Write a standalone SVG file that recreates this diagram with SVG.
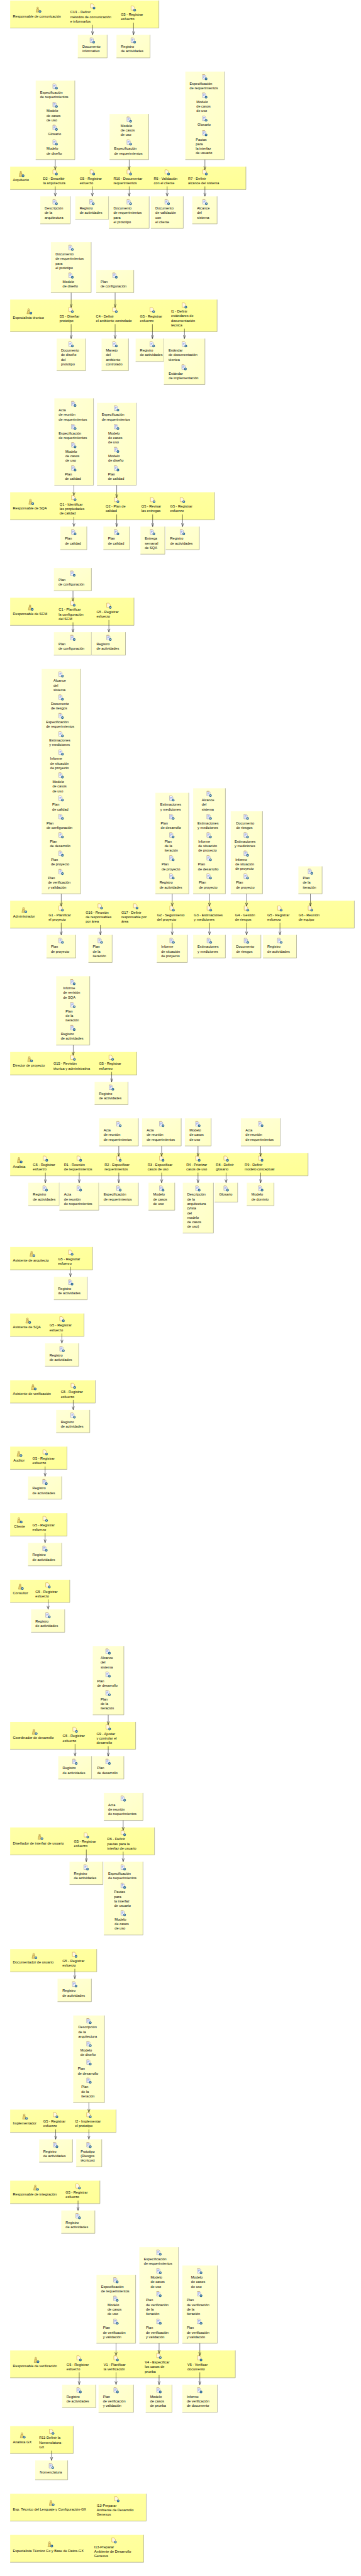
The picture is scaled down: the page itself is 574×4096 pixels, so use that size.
<svg xmlns="http://www.w3.org/2000/svg" width="574" height="4096" viewBox="0 0 574 4096">
<style>
text{font-family:"Liberation Sans",Arial,sans-serif;font-size:10.8px;fill:#000}
.b{fill:url(#gb)}
.n{fill:url(#gn)}
.s{fill:none;stroke:#a6a68c;stroke-width:1.4}
#cx path{fill:none;stroke:#000;stroke-width:1;marker-end:url(#a)}
</style>
<defs>
<linearGradient id="gb" x1="0" y1="0" x2="1" y2="1"><stop offset="0" stop-color="#ffffa8"/><stop offset="1" stop-color="#ffff96"/></linearGradient>
<linearGradient id="gn" x1="0" y1="0" x2="1" y2="1"><stop offset="0" stop-color="#ffffd8"/><stop offset="1" stop-color="#ffffc4"/></linearGradient>
<marker id="a" markerUnits="userSpaceOnUse" markerWidth="12" markerHeight="10" refX="11" refY="5" orient="auto"><path d="M1 1.5L11 5L1 8.5" fill="none" stroke="#000"/></marker>
<g id="ba"><circle cx="3" cy="3" r="4" fill="#1d5f8f"/><path d="M1 3.6L3 1.4L5 3.6M3 1.4V5" fill="none" stroke="#fff" stroke-width="1.1"/></g>
<g id="d"><path d="M-6-8H1L4-5V6H-6Z" fill="#f4f4ff" stroke="#8a8aa8"/><path d="M-4-4H2M-4-1.5H1M-4 1H-1" stroke="#5a78c8"/><path d="M-6-8H1" stroke="#d9a040"/><use href="#ba" x="2" y="2"/></g>
<g id="t"><path d="M-6-8H1L5-3V5H-6Z" fill="#fff7e0" stroke="#c89030"/><use href="#ba" x="2" y="2"/></g>
<g id="r"><circle cx="-2" cy="-6" r="2.6" fill="#f4dc90" stroke="#a08030"/><path d="M-7 7L-5-3H1L3 7Z" fill="#e8d070" stroke="#a08030"/><use href="#ba" x="2" y="2"/></g>
</defs>
<g transform="scale(0.5209 0.52105)">

<g id="lane-comunicacion"><rect class="b" x="31" y="1.5" width="454" height="84"/><path class="s" d="M31 85.5H485V1.5"/>
<use href="#r" x="117" y="30"/><text x="39.4" y="53">Responsable de comunicación</text>
<g id="t-cu1"><use href="#t" x="282" y="19.5"/><text x="214.4" y="41"><tspan x="214.4">CU1 - Definir</tspan><tspan x="214.4" dy="14">métodos de comunicación</tspan><tspan x="214.4" dy="14">e informarlos</tspan></text></g>
<g id="t-com-g5"><use href="#t" x="406" y="26"/><text x="369" y="48"><tspan x="369">G5 - Registrar</tspan><tspan x="369" dy="14">esfuerzo</tspan></text></g></g>
<g id="w-doc-inf"><rect class="n" x="237.5" y="106.5" width="89.5" height="70"/><path class="s" d="M237.5 176.5H327V106.5"/><use href="#d" x="281" y="123.7"/><text y="146"><tspan x="251.6">Documento</tspan><tspan x="251.6" dy="14">informativo</tspan></text></g>
<g id="w-com-reg"><rect class="n" x="355.6" y="106.5" width="102.4" height="70"/><path class="s" d="M355.6 176.5H458V106.5"/><use href="#d" x="406" y="123.7"/><text y="146"><tspan x="369">Registro</tspan><tspan x="369" dy="14">de actividades</tspan></text></g>

<g id="w-arq-a"><rect class="n" x="109" y="246" width="119.4" height="241"/><path class="s" d="M109 487H228.4V246"/>
<use href="#d" x="167.3" y="264"/><text y="286"><tspan x="122.3">Especificación</tspan><tspan x="122.3" dy="14">de requerimientos</tspan></text>
<use href="#d" x="167.3" y="320"/><text y="342.4"><tspan x="142">Modelo</tspan><tspan x="142" dy="14">de casos</tspan><tspan x="142" dy="14">de uso</tspan></text>
<use href="#d" x="167.3" y="390"/><text x="146.2" y="412.3">Glosario</text>
<use href="#d" x="167.3" y="434.8"/><text y="457.3"><tspan x="142">Modelo</tspan><tspan x="142" dy="14">de diseño</tspan></text></g>
<g id="w-arq-b"><rect class="n" x="334.5" y="347.7" width="119.5" height="139.3"/><path class="s" d="M334.5 487H454V347.7"/>
<use href="#d" x="393.6" y="365"/><text y="387.4"><tspan x="368.3">Modelo</tspan><tspan x="368.3" dy="14">de casos</tspan><tspan x="368.3" dy="14">de uso</tspan></text>
<use href="#d" x="393.6" y="434.8"/><text y="457.3"><tspan x="348.6">Especificación</tspan><tspan x="348.6" dy="14">de requerimientos</tspan></text></g>
<g id="w-arq-c"><rect class="n" x="565.7" y="218.4" width="119.5" height="268.6"/><path class="s" d="M565.7 487H685.2V218.4"/>
<use href="#d" x="624" y="235.7"/><text y="258.2"><tspan x="579">Especificación</tspan><tspan x="579" dy="14">de requerimientos</tspan></text>
<use href="#d" x="624" y="291.7"/><text y="314.2"><tspan x="599.5">Modelo</tspan><tspan x="599.5" dy="14">de casos</tspan><tspan x="599.5" dy="14">de uso</tspan></text>
<use href="#d" x="624" y="362"/><text x="603" y="384">Glosario</text>
<use href="#d" x="624" y="406.6"/><text y="429.1"><tspan x="597.4">Pautas</tspan><tspan x="597.4" dy="14">para</tspan><tspan x="597.4" dy="14">la interfaz</tspan><tspan x="597.4" dy="14">de usuario</tspan></text></g>
<g id="lane-arquitecto"><rect class="b" x="31" y="508.4" width="719.6" height="70"/><path class="s" d="M31 578.4H750.6V508.4"/>
<use href="#r" x="65.4" y="531.2"/><text x="39.4" y="553.3">Arquitecto</text>
<g id="t-d2"><use href="#t" x="167.3" y="526"/><text y="548.2"><tspan x="131.4">D2 - Describir</tspan><tspan x="131.4" dy="14">la arquitectura</tspan></text></g>
<g id="t-arq-g5"><use href="#t" x="281" y="526"/><text y="548.2"><tspan x="243.2">G5 - Registrar</tspan><tspan x="243.2" dy="14">esfuerzo</tspan></text></g>
<g id="t-r10"><use href="#t" x="393.6" y="526"/><text y="548.2"><tspan x="346.5">R10 - Documentar</tspan><tspan x="346.5" dy="14">requerimientos</tspan></text></g>
<g id="t-r5"><use href="#t" x="509.5" y="526"/><text y="548.2"><tspan x="469.5">R5 - Validación</tspan><tspan x="469.5" dy="14">con el cliente</tspan></text></g>
<g id="t-r7"><use href="#t" x="624.8" y="526"/><text y="548.2"><tspan x="574.2">R7 - Definir</tspan><tspan x="574.2" dy="14">alcance del sistema</tspan></text></g></g>
<g id="w-desc-arq"><rect class="n" x="123" y="599.3" width="91.4" height="83.8"/><path class="s" d="M123 683.1H214.4V599.3"/><use href="#d" x="167.3" y="617"/><text y="639.1"><tspan x="136.3">Descripción</tspan><tspan x="136.3" dy="14">de la</tspan><tspan x="136.3" dy="14">arquitectura</tspan></text></g>
<g id="w-arq-reg"><rect class="n" x="229.8" y="599.3" width="101.9" height="70"/><path class="s" d="M229.8 669.3H331.7V599.3"/><use href="#d" x="279.7" y="617"/><text y="639.1"><tspan x="243.2">Registro</tspan><tspan x="243.2" dy="14">de actividades</tspan></text></g>
<g id="w-doc-req"><rect class="n" x="332.4" y="599.3" width="123" height="97.7"/><path class="s" d="M332.4 697H455.4V599.3"/><use href="#d" x="393.6" y="617"/><text y="639.1"><tspan x="346.5">Documento</tspan><tspan x="346.5" dy="14">de requerimientos</tspan><tspan x="346.5" dy="14">para</tspan><tspan x="346.5" dy="14">el prototipo</tspan></text></g>
<g id="w-doc-val"><rect class="n" x="460.3" y="599.3" width="99.1" height="97.7"/><path class="s" d="M460.3 697H559.4V599.3"/><use href="#d" x="509.5" y="617"/><text y="639.1"><tspan x="474.4">Documento</tspan><tspan x="474.4" dy="14">de validación</tspan><tspan x="474.4" dy="14">con</tspan><tspan x="474.4" dy="14">el cliente</tspan></text></g>
<g id="w-alcance"><rect class="n" x="586.8" y="599.3" width="75.9" height="83.8"/><path class="s" d="M586.8 683.1H662.7V599.3"/><use href="#d" x="624.8" y="617"/><text y="639.1"><tspan x="601.6">Alcance</tspan><tspan x="601.6" dy="14">del</tspan><tspan x="601.6" dy="14">sistema</tspan></text></g>

<g id="w-tec-a"><rect class="n" x="155.3" y="739.1" width="123" height="154.1"/><path class="s" d="M155.3 893.2H278.3V739.1"/>
<use href="#d" x="215.8" y="756.4"/><text y="779.3"><tspan x="169.4">Documento</tspan><tspan x="169.4" dy="14">de requerimientos</tspan><tspan x="169.4" dy="14">para</tspan><tspan x="169.4" dy="14">el prototipo</tspan></text>
<use href="#d" x="215.8" y="841"/><text y="863.1"><tspan x="191.2">Modelo</tspan><tspan x="191.2" dy="14">de diseño</tspan></text></g>
<g id="w-tec-b"><rect class="n" x="293.8" y="823.7" width="114.5" height="69.5"/><path class="s" d="M293.8 893.2H408.3V823.7"/><use href="#d" x="350" y="841"/><text y="863.1"><tspan x="307.1">Plan</tspan><tspan x="307.1" dy="14">de configuración</tspan></text></g>
<g id="lane-tecnico"><rect class="b" x="31" y="914.2" width="631.7" height="98.1"/><path class="s" d="M31 1012.3H662.7V914.2"/>
<use href="#r" x="89.3" y="950.4"/><text x="39.4" y="973.4">Especialista técnico</text>
<g id="t-d5"><use href="#t" x="215.8" y="946.2"/><text y="968.3"><tspan x="182">D5 - Diseñar</tspan><tspan x="182" dy="14">prototipo</tspan></text></g>
<g id="t-c4"><use href="#t" x="350" y="946.2"/><text y="968.3"><tspan x="293">C4 - Definir</tspan><tspan x="293" dy="14">el ambiente controlado</tspan></text></g>
<g id="t-tec-g5"><use href="#t" x="463.8" y="946.2"/><text y="968.3"><tspan x="427.3">G5 - Registrar</tspan><tspan x="427.3" dy="14">esfuerzo</tspan></text></g>
<g id="t-i1"><use href="#t" x="562.2" y="932.3"/><text y="954"><tspan x="522.2">I1 - Definir</tspan><tspan x="522.2" dy="14">estándares de</tspan><tspan x="522.2" dy="14">documentación</tspan><tspan x="522.2" dy="14">técnica</tspan></text></g></g>
<g id="w-doc-dis"><rect class="n" x="172.9" y="1033.3" width="88.5" height="98.1"/><path class="s" d="M172.9 1131.4H261.4V1033.3"/><use href="#d" x="215.8" y="1051"/><text y="1073.1"><tspan x="186.2">Documento</tspan><tspan x="186.2" dy="14">de diseño</tspan><tspan x="186.2" dy="14">del</tspan><tspan x="186.2" dy="14">prototipo</tspan></text></g>
<g id="w-manejo"><rect class="n" x="310" y="1033.3" width="82.2" height="98.1"/><path class="s" d="M310 1131.4H392.2V1033.3"/><use href="#d" x="350" y="1051"/><text y="1073.1"><tspan x="323.3">Manejo</tspan><tspan x="323.3" dy="14">del</tspan><tspan x="323.3" dy="14">ambiente</tspan><tspan x="323.3" dy="14">controlado</tspan></text></g>
<g id="w-tec-reg"><rect class="n" x="414" y="1033.3" width="85.7" height="70"/><path class="s" d="M414 1103.3H499.7V1033.3"/><use href="#d" x="463.8" y="1051"/><text y="1073.1"><tspan x="427.3">Registro</tspan><tspan x="427.3" dy="14">de actividades</tspan></text></g>
<g id="w-estandar"><rect class="n" x="500.4" y="1033.3" width="125.1" height="140.2"/><path class="s" d="M500.4 1173.5H625.5V1033.3"/><use href="#d" x="562.2" y="1051"/><text y="1073.1"><tspan x="514.5">Estándar</tspan><tspan x="514.5" dy="14">de documentación</tspan><tspan x="514.5" dy="14">técnica</tspan></text><use href="#d" x="561" y="1121"/><text y="1143"><tspan x="515.1">Estándar</tspan><tspan x="515.1" dy="14">de implementación</tspan></text></g>

<g id="w-sqa-a"><rect class="n" x="165.9" y="1215.6" width="119.4" height="265.2"/><path class="s" d="M165.9 1480.8H285.3V1215.6"/>
<use href="#d" x="224.2" y="1232.8"/><text y="1255.4"><tspan x="179.2">Acta</tspan><tspan x="179.2" dy="14">de reunión</tspan><tspan x="179.2" dy="14">de requerimientos</tspan></text>
<use href="#d" x="224.2" y="1302.7"/><text y="1325.6"><tspan x="179.2">Especificación</tspan><tspan x="179.2" dy="14">de requerimientos</tspan></text>
<use href="#d" x="224.2" y="1358.7"/><text y="1381.2"><tspan x="199.6">Modelo</tspan><tspan x="199.6" dy="14">de casos</tspan><tspan x="199.6" dy="14">de uso</tspan></text>
<use href="#d" x="224.2" y="1429.4"/><text y="1451.1"><tspan x="198.2">Plan</tspan><tspan x="198.2" dy="14">de calidad</tspan></text></g>
<g id="w-sqa-b"><rect class="n" x="295.9" y="1229.5" width="120.1" height="251.3"/><path class="s" d="M295.9 1480.8H416V1229.5"/>
<use href="#d" x="354.9" y="1246.3"/><text y="1269.3"><tspan x="310.6">Especificación</tspan><tspan x="310.6" dy="14">de requerimientos</tspan></text>
<use href="#d" x="354.9" y="1302.7"/><text y="1325.6"><tspan x="330.3">Modelo</tspan><tspan x="330.3" dy="14">de casos</tspan><tspan x="330.3" dy="14">de uso</tspan></text>
<use href="#d" x="354.9" y="1373"/><text y="1395.1"><tspan x="330.3">Modelo</tspan><tspan x="330.3" dy="14">de diseño</tspan></text>
<use href="#d" x="354.9" y="1429.4"/><text y="1451.1"><tspan x="329.6">Plan</tspan><tspan x="329.6" dy="14">de calidad</tspan></text></g>
<g id="lane-sqa"><rect class="b" x="31" y="1502.2" width="624" height="84.2"/><path class="s" d="M31 1586.4H655V1502.2"/>
<use href="#r" x="94.9" y="1532.1"/><text x="39.4" y="1554.7">Responsable de SQA</text>
<g id="t-q1"><use href="#t" x="224.2" y="1520"/><text y="1542.4"><tspan x="182">Q1 - Identificar</tspan><tspan x="182" dy="14">las propiedades</tspan><tspan x="182" dy="14">de calidad</tspan></text></g>
<g id="t-q2"><use href="#t" x="354.9" y="1526.2"/><text y="1549.2"><tspan x="322.6">Q2 - Plan de</tspan><tspan x="322.6" dy="14">calidad</tspan></text></g>
<g id="t-q5"><use href="#t" x="465.2" y="1526.2"/><text y="1549.2"><tspan x="431.5">Q5 - Revisar</tspan><tspan x="431.5" dy="14">las entregas</tspan></text></g>
<g id="t-sqa-g5"><use href="#t" x="555.9" y="1526.2"/><text y="1549.2"><tspan x="519.4">G5 - Registrar</tspan><tspan x="519.4" dy="14">esfuerzo</tspan></text></g></g>
<g id="w-pcal-1"><rect class="n" x="184.1" y="1607" width="80.9" height="70.3"/><path class="s" d="M184.1 1677.3H265V1607"/><use href="#d" x="224.2" y="1624.3"/><text y="1647.2"><tspan x="198.2">Plan</tspan><tspan x="198.2" dy="14">de calidad</tspan></text></g>
<g id="w-pcal-2"><rect class="n" x="315.6" y="1607" width="80.1" height="70.3"/><path class="s" d="M315.6 1677.3H395.7V1607"/><use href="#d" x="354.9" y="1624.3"/><text y="1647.2"><tspan x="329.6">Plan</tspan><tspan x="329.6" dy="14">de calidad</tspan></text></g>
<g id="w-entrega"><rect class="n" x="428.7" y="1607" width="74.5" height="84.2"/><path class="s" d="M428.7 1691.2H503.2V1607"/><use href="#d" x="464.6" y="1624.3"/><text y="1647.2"><tspan x="442">Entrega</tspan><tspan x="442" dy="14">semanal</tspan><tspan x="442" dy="14">de SQA</tspan></text></g>
<g id="w-sqa-reg"><rect class="n" x="506" y="1607" width="102.6" height="70.3"/><path class="s" d="M506 1677.3H608.6V1607"/><use href="#d" x="555.9" y="1624.3"/><text y="1647.2"><tspan x="519.4">Registro</tspan><tspan x="519.4" dy="14">de actividades</tspan></text></g>

<g id="w-scm-in"><rect class="n" x="164.5" y="1733.3" width="114.5" height="69.9"/><path class="s" d="M164.5 1803.2H279V1733.3"/><use href="#d" x="221.4" y="1750.6"/><text y="1773.1"><tspan x="178.5">Plan</tspan><tspan x="178.5" dy="14">de configuración</tspan></text></g>
<g id="lane-scm"><rect class="b" x="31" y="1824.2" width="378" height="84.2"/><path class="s" d="M31 1908.4H409V1824.2"/>
<use href="#r" x="93.5" y="1854.5"/><text x="39.4" y="1876.6">Responsable de SCM</text>
<g id="t-c1"><use href="#t" x="221.4" y="1842"/><text y="1864"><tspan x="179.2">C1 - Planificar</tspan><tspan x="179.2" dy="14">la configuración</tspan><tspan x="179.2" dy="14">del SCM</tspan></text></g>
<g id="t-scm-g5"><use href="#t" x="331.7" y="1848.6"/><text y="1871.2"><tspan x="294.5">G5 - Registrar</tspan><tspan x="294.5" dy="14">esfuerzo</tspan></text></g></g>
<g id="w-scm-plan"><rect class="n" x="164.5" y="1929" width="114.5" height="70.4"/><path class="s" d="M164.5 1999.4H279V1929"/><use href="#d" x="221.4" y="1946.7"/><text y="1969.2"><tspan x="178.5">Plan</tspan><tspan x="178.5" dy="14">de configuración</tspan></text></g>
<g id="w-scm-reg"><rect class="n" x="279.7" y="1929" width="103.3" height="70.4"/><path class="s" d="M279.7 1999.4H383V1929"/><use href="#d" x="331.7" y="1946.7"/><text y="1969.2"><tspan x="294.5">Registro</tspan><tspan x="294.5" dy="14">de actividades</tspan></text></g>

<g id="w-adm-a"><rect class="n" x="127.2" y="2041.5" width="118.8" height="686"/><path class="s" d="M127.2 2727.5H246V2041.5"/>
<use href="#d" x="185.5" y="2058.3"/><text y="2081.2"><tspan x="163">Alcance</tspan><tspan x="163" dy="14">del</tspan><tspan x="163" dy="14">sistema</tspan></text>
<use href="#d" x="185.5" y="2128.6"/><text y="2151.1"><tspan x="155.3">Documento</tspan><tspan x="155.3" dy="14">de riesgos</tspan></text>
<use href="#d" x="185.5" y="2185"/><text y="2207.1"><tspan x="140.6">Especificación</tspan><tspan x="140.6" dy="14">de requerimientos</tspan></text>
<use href="#d" x="185.5" y="2241"/><text y="2263"><tspan x="150.4">Estimaciones</tspan><tspan x="150.4" dy="14">y mediciones</tspan></text>
<use href="#d" x="185.5" y="2296.5"/><text y="2319"><tspan x="153.2">Informe</tspan><tspan x="153.2" dy="14">de situación</tspan><tspan x="153.2" dy="14">de proyecto</tspan></text>
<use href="#d" x="185.5" y="2366.4"/><text y="2389.3"><tspan x="160.2">Modelo</tspan><tspan x="160.2" dy="14">de casos</tspan><tspan x="160.2" dy="14">de uso</tspan></text>
<use href="#d" x="185.5" y="2436.7"/><text y="2459.2"><tspan x="159.5">Plan</tspan><tspan x="159.5" dy="14">de calidad</tspan></text>
<use href="#d" x="185.5" y="2492.7"/><text y="2515.2"><tspan x="142">Plan</tspan><tspan x="142" dy="14">de configuración</tspan></text>
<use href="#d" x="185.5" y="2549"/><text y="2571.2"><tspan x="152.5">Plan</tspan><tspan x="152.5" dy="14">de desarrollo</tspan></text>
<use href="#d" x="185.5" y="2605"/><text y="2627.2"><tspan x="155.3">Plan</tspan><tspan x="155.3" dy="14">de proyecto</tspan></text>
<use href="#d" x="185.5" y="2661"/><text y="2683.1"><tspan x="146.2">Plan</tspan><tspan x="146.2" dy="14">de verificación</tspan><tspan x="146.2" dy="14">y validación</tspan></text></g>
<g id="w-adm-b"><rect class="n" x="474.4" y="2419.4" width="101.9" height="308.1"/><path class="s" d="M474.4 2727.5H576.3V2419.4"/>
<use href="#d" x="523.6" y="2436.7"/><text y="2459.2"><tspan x="489.1">Estimaciones</tspan><tspan x="489.1" dy="14">y mediciones</tspan></text>
<use href="#d" x="523.6" y="2492.7"/><text y="2515.2"><tspan x="490.6">Plan</tspan><tspan x="490.6" dy="14">de desarrollo</tspan></text>
<use href="#d" x="523.6" y="2549"/><text y="2571.2"><tspan x="502.5">Plan</tspan><tspan x="502.5" dy="14">de la</tspan><tspan x="502.5" dy="14">iteración</tspan></text>
<use href="#d" x="523.6" y="2619"/><text y="2641.4"><tspan x="493.4">Plan</tspan><tspan x="493.4" dy="14">de proyecto</tspan></text>
<use href="#d" x="523.6" y="2674.5"/><text y="2697"><tspan x="487">Registro</tspan><tspan x="487" dy="14">de actividades</tspan></text></g>
<g id="w-adm-c"><rect class="n" x="589.6" y="2405.5" width="98.4" height="322"/><path class="s" d="M589.6 2727.5H688V2405.5"/>
<use href="#d" x="637.4" y="2422.8"/><text y="2445.3"><tspan x="615.6">Alcance</tspan><tspan x="615.6" dy="14">del</tspan><tspan x="615.6" dy="14">sistema</tspan></text>
<use href="#d" x="637.4" y="2492.7"/><text y="2515.2"><tspan x="603">Estimaciones</tspan><tspan x="603" dy="14">y mediciones</tspan></text>
<use href="#d" x="637.4" y="2549"/><text y="2571.2"><tspan x="605.1">Informe</tspan><tspan x="605.1" dy="14">de situación</tspan><tspan x="605.1" dy="14">de proyecto</tspan></text>
<use href="#d" x="637.4" y="2619"/><text y="2641.4"><tspan x="604.4">Plan</tspan><tspan x="604.4" dy="14">de desarrollo</tspan></text>
<use href="#d" x="637.4" y="2674.5"/><text y="2697"><tspan x="607.2">Plan</tspan><tspan x="607.2" dy="14">de proyecto</tspan></text></g>
<g id="w-adm-d"><rect class="n" x="704.2" y="2475.8" width="97" height="251.7"/><path class="s" d="M704.2 2727.5H801.2V2475.8"/>
<use href="#d" x="750.6" y="2492.7"/><text y="2515.2"><tspan x="721">Documento</tspan><tspan x="721" dy="14">de riesgos</tspan></text>
<use href="#d" x="750.6" y="2549"/><text y="2571.2"><tspan x="716.2">Estimaciones</tspan><tspan x="716.2" dy="14">y mediciones</tspan></text>
<use href="#d" x="750.6" y="2605"/><text y="2627.2"><tspan x="718.3">Informe</tspan><tspan x="718.3" dy="14">de situación</tspan><tspan x="718.3" dy="14">de proyecto</tspan></text>
<use href="#d" x="750.6" y="2674.5"/><text y="2697"><tspan x="720.4">Plan</tspan><tspan x="720.4" dy="14">de proyecto</tspan></text></g>
<g id="w-adm-e"><rect class="n" x="910.8" y="2643.8" width="72.4" height="83.7"/><path class="s" d="M910.8 2727.5H983.2V2643.8"/><use href="#d" x="946.7" y="2660.2"/><text y="2683.1"><tspan x="924.2">Plan</tspan><tspan x="924.2" dy="14">de la</tspan><tspan x="924.2" dy="14">iteración</tspan></text></g>
<g id="lane-admin"><rect class="b" x="31" y="2748.6" width="1050.6" height="83.8"/><path class="s" d="M31 2832.4H1081.6V2748.6"/>
<use href="#r" x="73.8" y="2777.6"/><text x="40" y="2800.6">Administrador</text>
<g id="t-g1"><use href="#t" x="185.5" y="2772.6"/><text y="2795.5"><tspan x="148.3">G1 - Planificar</tspan><tspan x="148.3" dy="14">el proyecto</tspan></text></g>
<g id="t-g16"><use href="#t" x="305" y="2765.8"/><text y="2788.4"><tspan x="261.4">G16 - Reunión</tspan><tspan x="261.4" dy="14">de responsables</tspan><tspan x="261.4" dy="14">por área</tspan></text></g>
<g id="t-g17"><use href="#t" x="413.2" y="2765.8"/><text y="2788.4"><tspan x="370.4">G17 - Definir</tspan><tspan x="370.4" dy="14">responsable por</tspan><tspan x="370.4" dy="14">área</tspan></text></g>
<g id="t-g2"><use href="#t" x="524.3" y="2772.6"/><text y="2795.5"><tspan x="479.3">G2 - Seguimiento</tspan><tspan x="479.3" dy="14">del proyecto</tspan></text></g>
<g id="t-g3"><use href="#t" x="638.1" y="2772.6"/><text y="2795.5"><tspan x="591.8">G3 - Estimaciones</tspan><tspan x="591.8" dy="14">y mediciones</tspan></text></g>
<g id="t-g4"><use href="#t" x="751.3" y="2772.6"/><text y="2795.5"><tspan x="717.6">G4 - Gestión</tspan><tspan x="717.6" dy="14">de riesgos</tspan></text></g>
<g id="t-adm-g5"><use href="#t" x="853.2" y="2772.6"/><text y="2795.5"><tspan x="816">G5 - Registrar</tspan><tspan x="816" dy="14">esfuerzo</tspan></text></g>
<g id="t-g6"><use href="#t" x="946.7" y="2772.6"/><text y="2795.5"><tspan x="911.5">G6 - Reunión</tspan><tspan x="911.5" dy="14">de equipo</tspan></text></g></g>
<g id="w-adm-plan"><rect class="n" x="142" y="2853" width="89.2" height="70.3"/><path class="s" d="M142 2923.3H231.2V2853"/><use href="#d" x="185.5" y="2871"/><text y="2893.2"><tspan x="155.3">Plan</tspan><tspan x="155.3" dy="14">de proyecto</tspan></text></g>
<g id="w-adm-iter"><rect class="n" x="269.9" y="2853" width="72.4" height="84.2"/><path class="s" d="M269.9 2937.2H342.3V2853"/><use href="#d" x="305" y="2871"/><text y="2893.2"><tspan x="283.2">Plan</tspan><tspan x="283.2" dy="14">de la</tspan><tspan x="283.2" dy="14">iteración</tspan></text></g>
<g id="w-adm-inf"><rect class="n" x="478.6" y="2853" width="93.4" height="84.2"/><path class="s" d="M478.6 2937.2H572V2853"/><use href="#d" x="524.3" y="2871"/><text y="2893.2"><tspan x="492">Informe</tspan><tspan x="492" dy="14">de situación</tspan><tspan x="492" dy="14">de proyecto</tspan></text></g>
<g id="w-adm-est"><rect class="n" x="589.6" y="2853" width="98.4" height="70.3"/><path class="s" d="M589.6 2923.3H688V2853"/><use href="#d" x="638.1" y="2871"/><text y="2893.2"><tspan x="603">Estimaciones</tspan><tspan x="603" dy="14">y mediciones</tspan></text></g>
<g id="w-adm-rie"><rect class="n" x="707.7" y="2853" width="88.6" height="70.3"/><path class="s" d="M707.7 2923.3H796.3V2853"/><use href="#d" x="751.3" y="2871"/><text y="2893.2"><tspan x="721">Documento</tspan><tspan x="721" dy="14">de riesgos</tspan></text></g>
<g id="w-adm-reg"><rect class="n" x="802.6" y="2853" width="102.6" height="70.3"/><path class="s" d="M802.6 2923.3H905.2V2853"/><use href="#d" x="853.2" y="2871"/><text y="2893.2"><tspan x="816">Registro</tspan><tspan x="816" dy="14">de actividades</tspan></text></g>

<g id="w-dir-in"><rect class="n" x="171.5" y="2979.2" width="102.5" height="210.1"/><path class="s" d="M171.5 3189.3H274V2979.2"/>
<use href="#d" x="221.4" y="2997.3"/><text y="3019"><tspan x="192.6">Informe</tspan><tspan x="192.6" dy="14">de revisión</tspan><tspan x="192.6" dy="14">de SQA</tspan></text>
<use href="#d" x="221.4" y="3067.2"/><text y="3089.3"><tspan x="200.3">Plan</tspan><tspan x="200.3" dy="14">de la</tspan><tspan x="200.3" dy="14">iteración</tspan></text>
<use href="#d" x="221.4" y="3137"/><text y="3159.3"><tspan x="185.5">Registro</tspan><tspan x="185.5" dy="14">de actividades</tspan></text></g>
<g id="lane-director"><rect class="b" x="31" y="3210.3" width="386.5" height="69.9"/><path class="s" d="M31 3280.2H417.5V3210.3"/>
<use href="#r" x="91.4" y="3232.6"/><text x="39.4" y="3255.6">Director de proyecto</text>
<g id="t-g15"><use href="#t" x="222" y="3228"/><text y="3250.1"><tspan x="163">G15 - Revisión</tspan><tspan x="163" dy="14">técnica y administrativa</tspan></text></g>
<g id="t-dir-g5"><use href="#t" x="338.7" y="3228"/><text y="3250.1"><tspan x="302.2">G5 - Registrar</tspan><tspan x="302.2" dy="14">esfuerzo</tspan></text></g></g>
<g id="w-dir-reg"><rect class="n" x="288.8" y="3301.3" width="102" height="69.8"/><path class="s" d="M288.8 3371.1H390.8V3301.3"/><use href="#d" x="339.5" y="3319"/><text y="3341"><tspan x="302.2">Registro</tspan><tspan x="302.2" dy="14">de actividades</tspan></text></g>

<g id="w-ana-a"><rect class="n" x="302.9" y="3412.8" width="119.5" height="84.2"/><path class="s" d="M302.9 3497H422.4V3412.8"/><use href="#d" x="362" y="3430.5"/><text y="3453"><tspan x="316.3">Acta</tspan><tspan x="316.3" dy="14">de reunión</tspan><tspan x="316.3" dy="14">de requerimientos</tspan></text></g>
<g id="w-ana-b"><rect class="n" x="433.6" y="3412.8" width="119.5" height="84.2"/><path class="s" d="M433.6 3497H553.1V3412.8"/><use href="#d" x="492.7" y="3430.5"/><text y="3453"><tspan x="447.7">Acta</tspan><tspan x="447.7" dy="14">de reunión</tspan><tspan x="447.7" dy="14">de requerimientos</tspan></text></g>
<g id="w-ana-c"><rect class="n" x="564.3" y="3412.8" width="80.2" height="84.2"/><path class="s" d="M564.3 3497H644.5V3412.8"/><use href="#d" x="603" y="3430.5"/><text y="3453"><tspan x="578.4">Modelo</tspan><tspan x="578.4" dy="14">de casos</tspan><tspan x="578.4" dy="14">de uso</tspan></text></g>
<g id="w-ana-d"><rect class="n" x="735.1" y="3412.8" width="120.2" height="84.2"/><path class="s" d="M735.1 3497H855.3V3412.8"/><use href="#d" x="794.9" y="3430.5"/><text y="3453"><tspan x="749.2">Acta</tspan><tspan x="749.2" dy="14">de reunión</tspan><tspan x="749.2" dy="14">de requerimientos</tspan></text></g>
<g id="lane-analista"><rect class="b" x="31" y="3518.4" width="909.3" height="69.9"/><path class="s" d="M31 3588.3H940.3V3518.4"/>
<use href="#r" x="59.7" y="3540.8"/><text x="39.4" y="3563.3">Analista</text>
<g id="t-ana-g5"><use href="#t" x="137.7" y="3535.7"/><text y="3558.2"><tspan x="100.5">G5 - Registrar</tspan><tspan x="100.5" dy="14">esfuerzo</tspan></text></g>
<g id="t-r1"><use href="#t" x="241" y="3535.7"/><text y="3558.2"><tspan x="195.4">R1 - Reunión</tspan><tspan x="195.4" dy="14">de requerimientos</tspan></text></g>
<g id="t-r2"><use href="#t" x="362" y="3535.7"/><text y="3558.2"><tspan x="319">R2 - Especificar</tspan><tspan x="319" dy="14">requerimientos</tspan></text></g>
<g id="t-r3"><use href="#t" x="492.7" y="3535.7"/><text y="3558.2"><tspan x="450.5">R3 - Especificar</tspan><tspan x="450.5" dy="14">casos de uso</tspan></text></g>
<g id="t-r4"><use href="#t" x="603" y="3535.7"/><text y="3558.2"><tspan x="568.6">R4 - Priorizar</tspan><tspan x="568.6" dy="14">casos de uso</tspan></text></g>
<g id="t-r8"><use href="#t" x="689.4" y="3535.7"/><text y="3558.2"><tspan x="659.2">R8 - Definir</tspan><tspan x="659.2" dy="14">glosario</tspan></text></g>
<g id="t-r9"><use href="#t" x="794.9" y="3535.7"/><text y="3558.2"><tspan x="747">R9 - Definir</tspan><tspan x="747" dy="14">modelo conceptual</tspan></text></g></g>
<g id="w-ana-reg"><rect class="n" x="86.4" y="3609.4" width="94.6" height="69.8"/><path class="s" d="M86.4 3679.2H181V3609.4"/><use href="#d" x="137" y="3627"/><text y="3649.1"><tspan x="100.5">Registro</tspan><tspan x="100.5" dy="14">de actividades</tspan></text></g>
<g id="w-ana-acta"><rect class="n" x="181.3" y="3609.4" width="120.2" height="83.7"/><path class="s" d="M181.3 3693.1H301.5V3609.4"/><use href="#d" x="241" y="3627"/><text y="3649.1"><tspan x="195.4">Acta</tspan><tspan x="195.4" dy="14">de reunión</tspan><tspan x="195.4" dy="14">de requerimientos</tspan></text></g>
<g id="w-ana-esp"><rect class="n" x="302.2" y="3609.4" width="120.2" height="69.8"/><path class="s" d="M302.2 3679.2H422.4V3609.4"/><use href="#d" x="362" y="3627"/><text y="3649.1"><tspan x="316.3">Especificación</tspan><tspan x="316.3" dy="14">de requerimientos</tspan></text></g>
<g id="w-ana-mod"><rect class="n" x="453.3" y="3609.4" width="80.1" height="83.7"/><path class="s" d="M453.3 3693.1H533.4V3609.4"/><use href="#d" x="492.7" y="3627"/><text y="3649.1"><tspan x="467.4">Modelo</tspan><tspan x="467.4" dy="14">de casos</tspan><tspan x="467.4" dy="14">de uso</tspan></text></g>
<g id="w-ana-desc"><rect class="n" x="558" y="3609.4" width="93.5" height="153.6"/><path class="s" d="M558 3763H651.5V3609.4"/><use href="#d" x="603" y="3627"/><text y="3649.1"><tspan x="571.4">Descripción</tspan><tspan x="571.4" dy="14">de la</tspan><tspan x="571.4" dy="14">arquitectura</tspan><tspan x="571.4" dy="14">(Vista</tspan><tspan x="571.4" dy="14">del</tspan><tspan x="571.4" dy="14">modelo</tspan><tspan x="571.4" dy="14">de casos</tspan><tspan x="571.4" dy="14">de uso)</tspan></text></g>
<g id="w-ana-glo"><rect class="n" x="655" y="3609.4" width="70.3" height="58.9"/><path class="s" d="M655 3668.3H725.3V3609.4"/><use href="#d" x="689.4" y="3627"/><text x="669" y="3649.1">Glosario</text></g>
<g id="w-ana-dom"><rect class="n" x="753.4" y="3609.4" width="82.9" height="69.8"/><path class="s" d="M753.4 3679.2H836.3V3609.4"/><use href="#d" x="794.9" y="3627"/><text y="3649.1"><tspan x="767.5">Modelo</tspan><tspan x="767.5" dy="14">de dominio</tspan></text></g>

<g id="lane-asis-arq"><rect class="b" x="31" y="3805.5" width="251.5" height="69.5"/><path class="s" d="M31 3875H282.5V3805.5"/><use href="#r" x="98.4" y="3827"/><text x="39.4" y="3850.3">Asistente de arquitecto</text>
<g id="t-aa-g5"><use href="#t" x="215" y="3822.8"/><text y="3845.3"><tspan x="177.1">G5 - Registrar</tspan><tspan x="177.1" dy="14">esfuerzo</tspan></text></g></g>
<g id="w-aa-reg"><rect class="n" x="164.5" y="3896.4" width="101.9" height="69.9"/><path class="s" d="M164.5 3966.3H266.4V3896.4"/><use href="#d" x="215" y="3913.7"/><text y="3936.2"><tspan x="177.1">Registro</tspan><tspan x="177.1" dy="14">de actividades</tspan></text></g>

<g id="lane-asis-sqa"><rect class="b" x="31" y="4008.4" width="225.5" height="69.9"/><path class="s" d="M31 4078.3H256.5V4008.4"/><use href="#r" x="85.7" y="4030.7"/><text x="39.4" y="4053.2">Asistente de SQA</text>
<g id="t-as-g5"><use href="#t" x="188.4" y="4025.7"/><text y="4048.2"><tspan x="151.1">G5 - Registrar</tspan><tspan x="151.1" dy="14">esfuerzo</tspan></text></g></g>
<g id="w-as-reg"><rect class="n" x="137.7" y="4099.3" width="102.7" height="69.9"/><path class="s" d="M137.7 4169.2H240.4V4099.3"/><use href="#d" x="188.4" y="4117"/><text y="4139.1"><tspan x="151.1">Registro</tspan><tspan x="151.1" dy="14">de actividades</tspan></text></g>

<g id="lane-asis-ver"><rect class="b" x="31" y="4212.1" width="260" height="69.5"/><path class="s" d="M31 4281.6H291V4212.1"/><use href="#r" x="102.6" y="4233.6"/><text x="39.4" y="4256.1">Asistente de verificación</text>
<g id="t-av-g5"><use href="#t" x="222.8" y="4229"/><text y="4251.5"><tspan x="185.5">G5 - Registrar</tspan><tspan x="185.5" dy="14">esfuerzo</tspan></text></g></g>
<g id="w-av-reg"><rect class="n" x="171.5" y="4302.6" width="102.5" height="69.4"/><path class="s" d="M171.5 4372H274V4302.6"/><use href="#d" x="222" y="4319.9"/><text y="4342.4"><tspan x="185.5">Registro</tspan><tspan x="185.5" dy="14">de actividades</tspan></text></g>

<g id="lane-auditor"><rect class="b" x="31" y="4414.6" width="173.5" height="69.4"/><path class="s" d="M31 4484H204.5V4414.6"/><use href="#r" x="59" y="4436.9"/><text x="40.8" y="4459.4">Auditor</text>
<g id="t-au-g5"><use href="#t" x="137" y="4432.3"/><text y="4454.3"><tspan x="99.1">G5 - Registrar</tspan><tspan x="99.1" dy="14">esfuerzo</tspan></text></g></g>
<g id="w-au-reg"><rect class="n" x="85.7" y="4505.5" width="102.7" height="69.5"/><path class="s" d="M85.7 4575H188.4V4505.5"/><use href="#d" x="136.3" y="4522.7"/><text y="4545.3"><tspan x="99.1">Registro</tspan><tspan x="99.1" dy="14">de actividades</tspan></text></g>

<g id="lane-cliente"><rect class="b" x="31" y="4617.9" width="173.5" height="69.4"/><path class="s" d="M31 4687.3H204.5V4617.9"/><use href="#r" x="59.7" y="4639.8"/><text x="42.9" y="4662.3">Cliente</text>
<g id="t-cl-g5"><use href="#t" x="137" y="4635.2"/><text y="4657.3"><tspan x="99.1">G5 - Registrar</tspan><tspan x="99.1" dy="14">esfuerzo</tspan></text></g></g>
<g id="w-cl-reg"><rect class="n" x="85.7" y="4708.4" width="102.7" height="69.9"/><path class="s" d="M85.7 4778.3H188.4V4708.4"/><use href="#d" x="136.3" y="4726"/><text y="4748.6"><tspan x="99.1">Registro</tspan><tspan x="99.1" dy="14">de actividades</tspan></text></g>

<g id="lane-consultor"><rect class="b" x="31" y="4820.8" width="182" height="69.4"/><path class="s" d="M31 4890.2H213V4820.8"/><use href="#r" x="63.3" y="4842.7"/><text x="39.4" y="4865.2">Consultor</text>
<g id="t-co-g5"><use href="#t" x="145.5" y="4838"/><text y="4860.5"><tspan x="108.2">G5 - Registrar</tspan><tspan x="108.2" dy="14">esfuerzo</tspan></text></g></g>
<g id="w-co-reg"><rect class="n" x="94.9" y="4911.3" width="102.6" height="69.8"/><path class="s" d="M94.9 4981.1H197.5V4911.3"/><use href="#d" x="145.5" y="4929.4"/><text y="4951.5"><tspan x="108.2">Registro</tspan><tspan x="108.2" dy="14">de actividades</tspan></text></g>

<g id="w-coord-in"><rect class="n" x="283.2" y="5023.2" width="94.9" height="210"/><path class="s" d="M283.2 5233.2H378.1V5023.2"/>
<use href="#d" x="328.9" y="5040"/><text y="5063"><tspan x="307.1">Alcance</tspan><tspan x="307.1" dy="14">del</tspan><tspan x="307.1" dy="14">sistema</tspan></text>
<use href="#d" x="328.9" y="5110.3"/><text y="5133.3"><tspan x="296.6">Plan</tspan><tspan x="296.6" dy="14">de desarrollo</tspan></text>
<use href="#d" x="328.9" y="5166.8"/><text y="5189.3"><tspan x="307.1">Plan</tspan><tspan x="307.1" dy="14">de la</tspan><tspan x="307.1" dy="14">iteración</tspan></text></g>
<g id="lane-coord"><rect class="b" x="31" y="5254.7" width="383" height="83.4"/><path class="s" d="M31 5338.1H414V5254.7"/><use href="#r" x="105.4" y="5285.5"/><text x="39.4" y="5306.3">Coordinador de desarrollo</text>
<g id="t-co2-g5"><use href="#t" x="228.4" y="5278.7"/><text y="5301.3"><tspan x="191.2">G5 - Registrar</tspan><tspan x="191.2" dy="14">esfuerzo</tspan></text></g>
<g id="t-g9"><use href="#t" x="329.6" y="5271.6"/><text y="5294.5"><tspan x="294.5">G9 - Ajustar</tspan><tspan x="294.5" dy="14">y controlar el</tspan><tspan x="294.5" dy="14">desarrollo</tspan></text></g></g>
<g id="w-coord-reg"><rect class="n" x="177.8" y="5359.1" width="101.9" height="69.9"/><path class="s" d="M177.8 5429H279.7V5359.1"/><use href="#d" x="227.7" y="5376.4"/><text y="5399.3"><tspan x="191.2">Registro</tspan><tspan x="191.2" dy="14">de actividades</tspan></text></g>
<g id="w-coord-plan"><rect class="n" x="281.8" y="5359.1" width="96.3" height="69.9"/><path class="s" d="M281.8 5429H378.1V5359.1"/><use href="#d" x="328.9" y="5376.4"/><text y="5399.3"><tspan x="296.6">Plan</tspan><tspan x="296.6" dy="14">de desarrollo</tspan></text></g>

<g id="w-dis-in"><rect class="n" x="317" y="5471.5" width="119.4" height="83.8"/><path class="s" d="M317 5555.3H436.4V5471.5"/><use href="#d" x="375.3" y="5488.8"/><text y="5511.3"><tspan x="330.3">Acta</tspan><tspan x="330.3" dy="14">de reunión</tspan><tspan x="330.3" dy="14">de requerimientos</tspan></text></g>
<g id="lane-disenador"><rect class="b" x="31" y="5576.7" width="440.6" height="83.8"/><path class="s" d="M31 5660.5H471.6V5576.7"/><use href="#r" x="123" y="5605.8"/><text x="39.4" y="5628.7">Diseñador de interfaz de usuario</text>
<g id="t-dis-g5"><use href="#t" x="262.8" y="5601.1"/><text y="5623.2"><tspan x="225.6">G5 - Registrar</tspan><tspan x="225.6" dy="14">esfuerzo</tspan></text></g>
<g id="t-r6"><use href="#t" x="375.3" y="5594"/><text y="5616.1"><tspan x="327.5">R6 - Definir</tspan><tspan x="327.5" dy="14">pautas para la</tspan><tspan x="327.5" dy="14">interfaz de usuario</tspan></text></g></g>
<g id="w-dis-reg"><rect class="n" x="212.2" y="5681.5" width="102" height="69.5"/><path class="s" d="M212.2 5751H314.2V5681.5"/><use href="#d" x="262.1" y="5698.8"/><text y="5721.3"><tspan x="225.6">Registro</tspan><tspan x="225.6" dy="14">de actividades</tspan></text></g>
<g id="w-dis-out"><rect class="n" x="317" y="5681.5" width="119.4" height="223.5"/><path class="s" d="M317 5905H436.4V5681.5"/>
<use href="#d" x="375.3" y="5698.8"/><text y="5721.3"><tspan x="330.3">Especificación</tspan><tspan x="330.3" dy="14">de requerimientos</tspan></text>
<use href="#d" x="375.3" y="5754.8"/><text y="5777.3"><tspan x="348.6">Pautas</tspan><tspan x="348.6" dy="14">para</tspan><tspan x="348.6" dy="14">la interfaz</tspan><tspan x="348.6" dy="14">de usuario</tspan></text>
<use href="#d" x="375.3" y="5838.5"/><text y="5861"><tspan x="350">Modelo</tspan><tspan x="350" dy="14">de casos</tspan><tspan x="350" dy="14">de uso</tspan></text></g>

<g id="lane-docu"><rect class="b" x="31" y="5948" width="264.2" height="69.4"/><path class="s" d="M31 6017.4H295.2V5948"/><use href="#r" x="104.7" y="5969.5"/><text x="39.4" y="5992.4">Documentador de usuario</text>
<g id="t-du-g5"><use href="#t" x="227" y="5965.3"/><text y="5987.4"><tspan x="190.5">G5 - Registrar</tspan><tspan x="190.5" dy="14">esfuerzo</tspan></text></g></g>
<g id="w-du-reg"><rect class="n" x="175.7" y="6038.5" width="103.3" height="69.9"/><path class="s" d="M175.7 6108.4H279V6038.5"/><use href="#d" x="227" y="6055.7"/><text y="6078.7"><tspan x="190.5">Registro</tspan><tspan x="190.5" dy="14">de actividades</tspan></text></g>

<g id="w-imp-in"><rect class="n" x="223.5" y="6150.5" width="95.5" height="266"/><path class="s" d="M223.5 6416.5H319V6150.5"/>
<use href="#d" x="270.6" y="6167.7"/><text y="6190.2"><tspan x="239">Descripción</tspan><tspan x="239" dy="14">de la</tspan><tspan x="239" dy="14">arquitectura</tspan></text>
<use href="#d" x="270.6" y="6237.6"/><text y="6260.1"><tspan x="245.3">Modelo</tspan><tspan x="245.3" dy="14">de diseño</tspan></text>
<use href="#d" x="270.6" y="6293.6"/><text y="6316.5"><tspan x="237.5">Plan</tspan><tspan x="237.5" dy="14">de desarrollo</tspan></text>
<use href="#d" x="270.6" y="6349.5"/><text y="6372.5"><tspan x="248.1">Plan</tspan><tspan x="248.1" dy="14">de la</tspan><tspan x="248.1" dy="14">iteración</tspan></text></g>
<g id="lane-impl"><rect class="b" x="31" y="6437.9" width="323.2" height="69.5"/><path class="s" d="M31 6507.4H354.2V6437.9"/><use href="#r" x="75.9" y="6459.8"/><text x="39.4" y="6482.3">Implementador</text>
<g id="t-im-g5"><use href="#t" x="168.7" y="6454.8"/><text y="6477.7"><tspan x="132.1">G5 - Registrar</tspan><tspan x="132.1" dy="14">esfuerzo</tspan></text></g>
<g id="t-i2"><use href="#t" x="270.6" y="6454.8"/><text y="6477.7"><tspan x="229.1">I2 - Implementar</tspan><tspan x="229.1" dy="14">el prototipo</tspan></text></g></g>
<g id="w-im-reg"><rect class="n" x="119.5" y="6528.4" width="101.9" height="69.9"/><path class="s" d="M119.5 6598.3H221.4V6528.4"/><use href="#d" x="168.7" y="6546.1"/><text y="6568.6"><tspan x="132.1">Registro</tspan><tspan x="132.1" dy="14">de actividades</tspan></text></g>
<g id="w-proto"><rect class="n" x="232.6" y="6528.4" width="78" height="84.2"/><path class="s" d="M232.6 6612.6H310.6V6528.4"/><use href="#d" x="270.6" y="6546.1"/><text y="6568.6"><tspan x="246">Prototipo</tspan><tspan x="246" dy="14">(Riesgos</tspan><tspan x="246" dy="14">técnicos)</tspan></text></g>

<g id="lane-integ"><rect class="b" x="31" y="6654.7" width="274" height="69.9"/><path class="s" d="M31 6724.6H305V6654.7"/><use href="#r" x="109.6" y="6676.2"/><text x="39.4" y="6699.5">Responsable de integración</text>
<g id="t-in-g5"><use href="#t" x="237.5" y="6672.4"/><text y="6694.5"><tspan x="200.3">G5 - Registrar</tspan><tspan x="200.3" dy="14">esfuerzo</tspan></text></g></g>
<g id="w-in-reg"><rect class="n" x="187" y="6745.6" width="102.6" height="69.9"/><path class="s" d="M187 6815.5H289.6V6745.6"/><use href="#d" x="237.5" y="6762.9"/><text y="6785.4"><tspan x="200.3">Registro</tspan><tspan x="200.3" dy="14">de actividades</tspan></text></g>

<g id="w-ver-a"><rect class="n" x="294.5" y="6941.8" width="119.5" height="209.2"/><path class="s" d="M294.5 7151H414V6941.8"/>
<use href="#d" x="352.8" y="6958.6"/><text y="6981.5"><tspan x="308.5">Especificación</tspan><tspan x="308.5" dy="14">de requerimientos</tspan></text>
<use href="#d" x="352.8" y="7015"/><text y="7037.5"><tspan x="328.2">Modelo</tspan><tspan x="328.2" dy="14">de casos</tspan><tspan x="328.2" dy="14">de uso</tspan></text>
<use href="#d" x="352.8" y="7084.9"/><text y="7107.4"><tspan x="314.2">Plan</tspan><tspan x="314.2" dy="14">de verificación</tspan><tspan x="314.2" dy="14">y validación</tspan></text></g>
<g id="w-ver-b"><rect class="n" x="425.2" y="6857.6" width="119.5" height="293.4"/><path class="s" d="M425.2 7151H544.7V6857.6"/>
<use href="#d" x="484.2" y="6874.4"/><text y="6897.4"><tspan x="439.3">Especificación</tspan><tspan x="439.3" dy="14">de requerimientos</tspan></text>
<use href="#d" x="484.2" y="6930.8"/><text y="6953.3"><tspan x="459.6">Modelo</tspan><tspan x="459.6" dy="14">de casos</tspan><tspan x="459.6" dy="14">de uso</tspan></text>
<use href="#d" x="484.2" y="7000.7"/><text y="7023.2"><tspan x="445.6">Plan</tspan><tspan x="445.6" dy="14">de verificación</tspan><tspan x="445.6" dy="14">de la</tspan><tspan x="445.6" dy="14">iteración</tspan></text>
<use href="#d" x="484.2" y="7084.9"/><text y="7107.4"><tspan x="445.6">Plan</tspan><tspan x="445.6" dy="14">de verificación</tspan><tspan x="445.6" dy="14">y validación</tspan></text></g>
<g id="w-ver-c"><rect class="n" x="556.6" y="6913.6" width="106.8" height="237.4"/><path class="s" d="M556.6 7151H663.4V6913.6"/>
<use href="#d" x="608.6" y="6930.8"/><text y="6953.3"><tspan x="583.3">Modelo</tspan><tspan x="583.3" dy="14">de casos</tspan><tspan x="583.3" dy="14">de uso</tspan></text>
<use href="#d" x="608.6" y="7000.7"/><text y="7023.2"><tspan x="570">Plan</tspan><tspan x="570" dy="14">de verificación</tspan><tspan x="570" dy="14">de la</tspan><tspan x="570" dy="14">iteración</tspan></text>
<use href="#d" x="608.6" y="7084.9"/><text y="7107.4"><tspan x="570">Plan</tspan><tspan x="570" dy="14">de verificación</tspan><tspan x="570" dy="14">y validación</tspan></text></g>
<g id="lane-verif"><rect class="b" x="31" y="7172.8" width="687.3" height="83.4"/><path class="s" d="M31 7256.2H718.3V7172.8"/><use href="#r" x="111" y="7202.3"/><text x="39.4" y="7224.4">Responsable de verificación</text>
<g id="t-ve-g5"><use href="#t" x="240.4" y="7196.8"/><text y="7219.3"><tspan x="203.1">G5 - Registrar</tspan><tspan x="203.1" dy="14">esfuerzo</tspan></text></g>
<g id="t-v1"><use href="#t" x="353.5" y="7196.8"/><text y="7219.3"><tspan x="316.3">V1 - Planificar</tspan><tspan x="316.3" dy="14">la verificación</tspan></text></g>
<g id="t-v4"><use href="#t" x="484.2" y="7189.7"/><text y="7212.6"><tspan x="442">V4 - Especificar</tspan><tspan x="442" dy="14">los casos de</tspan><tspan x="442" dy="14">prueba</tspan></text></g>
<g id="t-v5"><use href="#t" x="608.6" y="7196.8"/><text y="7219.3"><tspan x="572">V5 - Verificar</tspan><tspan x="572" dy="14">documento</tspan></text></g></g>
<g id="w-ve-reg"><rect class="n" x="189.8" y="7277.2" width="102.6" height="70.2"/><path class="s" d="M189.8 7347.4H292.4V7277.2"/><use href="#d" x="240.4" y="7294.5"/><text y="7317.7"><tspan x="203.1">Registro</tspan><tspan x="203.1" dy="14">de actividades</tspan></text></g>
<g id="w-ve-plan"><rect class="n" x="300.8" y="7277.2" width="106.8" height="84.4"/><path class="s" d="M300.8 7361.6H407.6V7277.2"/><use href="#d" x="353.5" y="7294.5"/><text y="7317.7"><tspan x="314.2">Plan</tspan><tspan x="314.2" dy="14">de verificación</tspan><tspan x="314.2" dy="14">y validación</tspan></text></g>
<g id="w-ve-mod"><rect class="n" x="444.9" y="7277.2" width="80.1" height="84.4"/><path class="s" d="M444.9 7361.6H525V7277.2"/><use href="#d" x="484.2" y="7294.5"/><text y="7317.7"><tspan x="458.2">Modelo</tspan><tspan x="458.2" dy="14">de casos</tspan><tspan x="458.2" dy="14">de prueba</tspan></text></g>
<g id="w-ve-inf"><rect class="n" x="556.6" y="7277.2" width="106.8" height="84.4"/><path class="s" d="M556.6 7361.6H663.4V7277.2"/><use href="#d" x="608.6" y="7294.5"/><text y="7317.7"><tspan x="570">Informe</tspan><tspan x="570" dy="14">de verificación</tspan><tspan x="570" dy="14">de documento</tspan></text></g>

<g id="lane-gx-ana"><rect class="b" x="31" y="7403.7" width="192.5" height="83.6"/><path class="s" d="M31 7487.3H223.5V7403.7"/><use href="#r" x="68.9" y="7432.5"/><text x="39.4" y="7455.6">Analista GX</text>
<g id="t-r11"><use href="#t" x="156.7" y="7421"/><text y="7443.4"><tspan x="119.5">R11-Definir la</tspan><tspan x="119.5" dy="14">Nomenclatura-</tspan><tspan x="119.5" dy="14">GX</tspan></text></g></g>
<g id="w-nomen"><rect class="n" x="107.5" y="7508.4" width="99.1" height="59"/><path class="s" d="M107.5 7567.4H206.6V7508.4"/><use href="#d" x="156" y="7525.6"/><text x="121.6" y="7548.4">Nomenclatura</text></g>

<g id="lane-gx-esp"><rect class="b" x="31" y="7610" width="415.3" height="83.5"/><path class="s" d="M31 7693.5H446.3V7610"/><use href="#r" x="157.4" y="7638.7"/><text x="39.4" y="7661.5">Esp. Técnico del Lenguaje y Configuración-GX</text>
<g id="t-i13a"><use href="#t" x="355.6" y="7626.8"/><text y="7649.2"><tspan x="295.2">I13-Preparar</tspan><tspan x="295.2" dy="14">Ambiente de Desarrollo</tspan><tspan x="295.2" dy="14">Genexus</tspan></text></g></g>
<g id="lane-gx-bd"><rect class="b" x="31" y="7735.7" width="407.5" height="83.5"/><path class="s" d="M31 7819.2H438.5V7735.7"/><use href="#r" x="153.2" y="7764.8"/><text x="39.4" y="7787.6">Especialista Técnico Gx y Base de Datos-GX</text>
<g id="t-i13b"><use href="#t" x="347.2" y="7752.5"/><text y="7775.7"><tspan x="287.4">I13-Preparar</tspan><tspan x="287.4" dy="14">Ambiente de Desarrollo</tspan><tspan x="287.4" dy="14">Genexus</tspan></text></g></g>

<g id="cx">
<path d="M282.5 76V106"/><path d="M407.6 69.4V106"/>
<path d="M168.7 487V517.7"/><path d="M394.3 487V517.7"/><path d="M625.5 487V517.7"/>
<path d="M168.7 569V599"/><path d="M281.8 569V599"/><path d="M394.3 569V599"/><path d="M510.2 569V599"/><path d="M625.5 569V599"/>
<path d="M217.2 893.2V937.8"/><path d="M351.4 893.2V937.8"/>
<path d="M217.2 989.1V1033.3"/><path d="M351.4 989.1V1033.3"/><path d="M465.3 989.1V1033.3"/><path d="M563 1003V1033.3"/>
<path d="M225.6 1480.8V1512.4"/><path d="M356.3 1480.8V1518.7"/>
<path d="M225.6 1577.6V1607"/><path d="M356.3 1570V1607"/><path d="M466 1570V1607"/><path d="M557.3 1570V1607"/>
<path d="M222.8 1803.2V1834.3"/><path d="M222.8 1899.2V1929"/><path d="M332.4 1892V1929"/>
<path d="M186.9 2727.5V2765.4"/><path d="M525.7 2727.5V2765.4"/><path d="M639.5 2727.5V2765.4"/><path d="M752.7 2727.5V2765.4"/><path d="M947.4 2727.5V2765.4"/>
<path d="M186.9 2816V2853"/><path d="M306.4 2823V2853"/><path d="M525.7 2816V2853"/><path d="M639.5 2816V2853"/><path d="M752.7 2816V2853"/><path d="M854.6 2816V2853"/>
<path d="M223.5 3189.3V3220.4"/><path d="M340.9 3271V3301.3"/>
<path d="M362.6 3497V3528.1"/><path d="M493.4 3497V3528.1"/><path d="M604.4 3497V3528.1"/><path d="M795.6 3497V3528.1"/>
<path d="M138.5 3578.6V3609.4"/><path d="M241.8 3578.6V3609.4"/><path d="M362.6 3578.6V3609.4"/><path d="M493.4 3578.6V3609.4"/><path d="M604.4 3578.6V3609.4"/><path d="M690.1 3578.6V3609.4"/><path d="M795.6 3578.6V3609.4"/>
<path d="M215 3866V3896"/><path d="M189 4069.4V4098.9"/><path d="M223.5 4271.9V4302.2"/><path d="M137.7 4475.2V4505.1"/><path d="M137.7 4678.5V4707.9"/><path d="M146.9 4881V4910.8"/>
<path d="M330.3 5233.2V5263.1"/><path d="M229.1 5322.1V5358.7"/><path d="M330.3 5328.8V5358.7"/>
<path d="M376 5555.3V5585.6"/><path d="M263.5 5644V5681.1"/><path d="M376 5650.8V5681.1"/>
<path d="M228.4 6008.2V6038.5"/>
<path d="M271.3 6416.5V6446.3"/><path d="M170 6498.1V6528"/><path d="M271.3 6498.1V6528"/>
<path d="M238.2 6715.3V6745.2"/>
<path d="M354.2 7151V7188.4"/><path d="M485.6 7151V7182.1"/><path d="M610 7151V7188.4"/>
<path d="M241.8 7239.8V7276.9"/><path d="M354.2 7239.8V7276.9"/><path d="M485.6 7246.9V7276.9"/><path d="M610 7239.8V7276.9"/>
<path d="M157.4 7478.5V7508.4"/>
</g>
</g>
</svg>
